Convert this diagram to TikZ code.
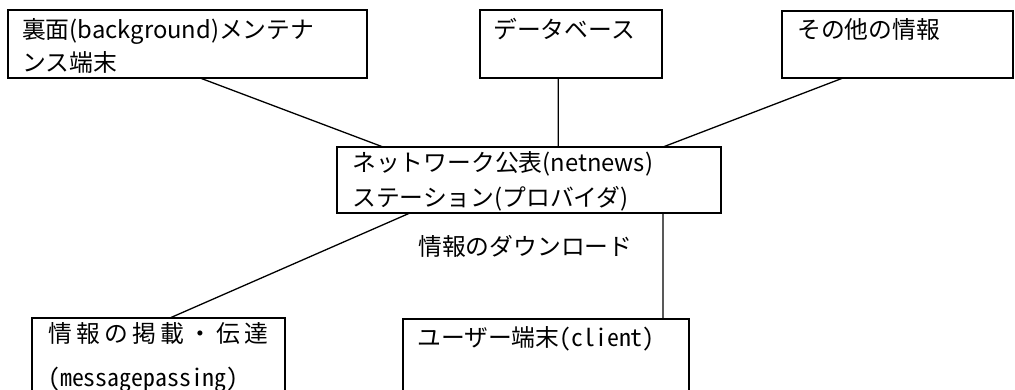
\documentclass[tikz,border=0pt]{standalone}
\usepackage{fontspec}
\setmainfont{Noto Sans CJK JP}
\newfontfamily\hw[RawFeature=+hwid]{Noto Sans CJK JP}
\usetikzlibrary{calc}
\begin{document}
\begin{tikzpicture}[x=1pt,y=-1pt,
  box/.style={draw, line width=2pt, rectangle, inner sep=0pt, outer sep=0pt, anchor=north west},
  txt/.style={anchor=base west, inner sep=0pt, font=\fontsize{23.8}{28}\selectfont},
  conn/.style={line width=1.3pt}]
\clip (0,0) rectangle (1015,390);
\fill[white] (0,0) rectangle (1015,390);
% boxes
\node[box, minimum width=359pt, minimum height=68pt] (b1) at (8,10) {};
\node[box, minimum width=182pt, minimum height=68pt] (b2) at (480,10) {};
\node[box, minimum width=231pt, minimum height=67pt] (b3) at (782,11) {};
\node[box, minimum width=384pt, minimum height=66pt] (c) at (337,147) {};
\node[box, minimum width=253pt, minimum height=90pt] (m) at (32,318) {};
\node[box, minimum width=286pt, minimum height=90pt] (u) at (403,319) {};
% texts
\node[txt] (t1a) at (22,39) {裏面(background)メンテナ};
\node[txt] (t1b) at (22,72) {ンス端末};
\node[txt] (t2) at (493,39) {データベース};
\node[txt] (t3) at (797,39) {その他の情報};
\node[txt] (tca) at (352,172) {ネットワーク公表(netnews)};
\node[txt] (tcb) at (352,207) {ステーション(プロバイダ)};
\node[txt] (td) at (418,256) {情報のダウンロード};
\node[txt] (tma) at (48,342) {\addfontfeature{LetterSpace=18}情報の掲載・伝達};
\node[txt] (tmb) at (48,386) {\hw (messagepassing)};
\node[txt] (tu) at (417,346) {ユーザー端末{\hw (client)}};
% connectors
\draw[conn] ($(b1.south west)!0.535!(b1.south east)$) -- ($(c.north west)!0.12!(c.north east)$);
\draw[conn] ($(b2.south west)!0.43!(b2.south east)$) -- ($(c.north west)!0.576!(c.north east)$);
\draw[conn] ($(b3.south west)!0.264!(b3.south east)$) -- ($(c.north west)!0.849!(c.north east)$);
\draw[conn] ($(c.south west)!0.19!(c.south east)$) -- ($(m.north west)!0.545!(m.north east)$);
\draw[conn] ($(c.south west)!0.849!(c.south east)$) -- ($(u.north west)!0.909!(u.north east)$);
\end{tikzpicture}
\end{document}
